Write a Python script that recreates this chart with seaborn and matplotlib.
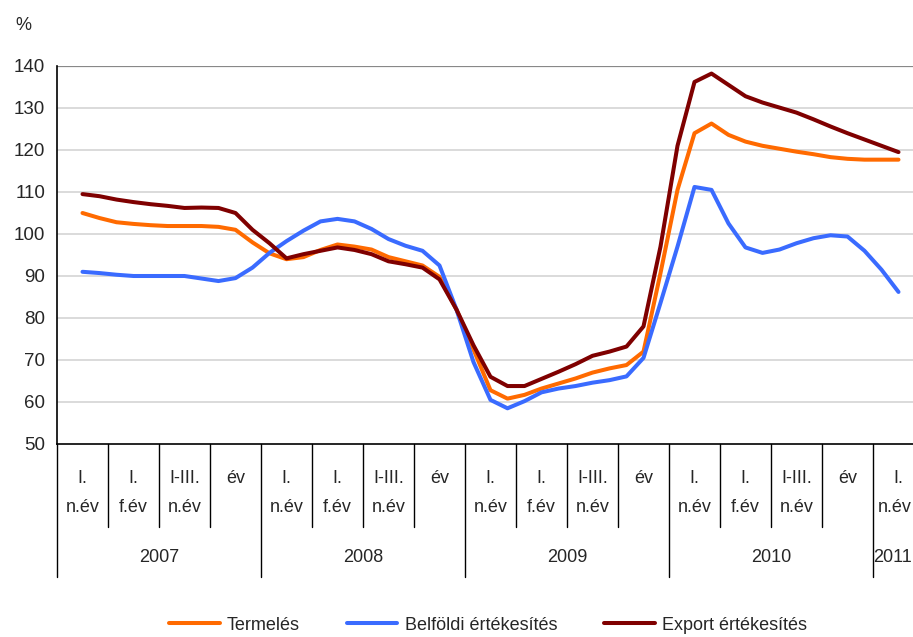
import numpy as np
import pandas as pd
import matplotlib
matplotlib.use("Agg")
import matplotlib.pyplot as plt
import matplotlib.transforms as mtransforms
import seaborn as sns

# monthly readings, Jan 2007 .. Jan 2011 (3 months per column of the table)
months = np.arange(49)

termeles = [105.0, 103.8, 102.8, 102.4, 102.1, 101.9, 101.9, 101.9, 101.7, 101.0,
            98.0, 95.4, 94.0, 94.5, 96.2, 97.5, 97.0, 96.3, 94.5, 93.5,
            92.5, 89.8, 82.0, 72.5, 62.8, 60.8, 61.7, 63.2, 64.4, 65.6,
            67.0, 68.0, 68.8, 72.0, 90.7, 110.5, 124.0, 126.3, 123.6, 122.0,
            121.0, 120.3, 119.6, 119.0, 118.3, 117.9, 117.7, 117.7, 117.7]

belfoldi = [91.0, 90.7, 90.3, 90.0, 90.0, 90.0, 90.0, 89.4, 88.8, 89.5,
            92.0, 95.5, 98.3, 100.8, 103.0, 103.6, 103.0, 101.2, 98.8, 97.2,
            96.0, 92.5, 82.0, 69.5, 60.5, 58.5, 60.2, 62.3, 63.2, 63.8,
            64.6, 65.2, 66.1, 70.5, 83.6, 97.0, 111.2, 110.5, 102.5, 96.8,
            95.5, 96.3, 97.8, 99.0, 99.7, 99.4, 96.0, 91.5, 86.2]

export = [109.5, 109.0, 108.2, 107.6, 107.1, 106.7, 106.2, 106.3, 106.2, 105.0,
          101.0, 97.8, 94.2, 95.2, 96.0, 96.8, 96.2, 95.2, 93.5, 92.8,
          92.0, 89.2, 82.0, 73.5, 66.0, 63.8, 63.8, 65.5, 67.2, 69.0,
          71.0, 72.0, 73.2, 78.0, 97.0, 121.0, 136.2, 138.2, 135.5, 132.8,
          131.3, 130.1, 128.9, 127.3, 125.6, 124.0, 122.5, 121.0, 119.5]

series_names = ["Termelés", "Belföldi értékesítés", "Export értékesítés"]
colors = ["#FF6A00", "#3A6BFF", "#7F0000"]

period_top = ["I.", "I.", "I-III.", "év"]
period_bottom = ["n.év", "f.év", "n.év", ""]
years = ["2007", "2008", "2009", "2010", "2011"]
n_periods = 17

df = pd.DataFrame({
    "x": np.tile(months / 3.0, 3),
    "value": termeles + belfoldi + export,
    "series": np.repeat(series_names, len(months)),
})

sns.set_style("white")
plt.rcParams["font.family"] = ["Liberation Sans", "DejaVu Sans"]
plt.rcParams["font.size"] = 13

fig = plt.figure(figsize=(9.13, 6.37), dpi=100)
ax = fig.add_axes([57 / 913, 1 - 444 / 637, 867 / 913, 378 / 637])

sns.lineplot(data=df, x="x", y="value", hue="series", palette=colors,
             hue_order=series_names, linewidth=2.9, ax=ax, legend=True)

ax.set_xlim(-0.5, n_periods - 0.5)
ax.set_ylim(50, 140)
ax.set_yticks(range(50, 141, 10))
for yv in range(60, 140, 10):
    ax.axhline(yv, color="#d4d4d4", lw=1.2, zorder=0)
ax.axhline(140, color="#888888", lw=1.6, zorder=0)

ax.set_xticks([])
ax.set_xlabel("")
ax.set_ylabel("")
for s in ["top", "right"]:
    ax.spines[s].set_visible(False)
ax.spines["left"].set_color("black")
ax.spines["bottom"].set_color("black")
ax.spines["left"].set_linewidth(1.2)
ax.spines["bottom"].set_linewidth(1.2)
ax.tick_params(axis="y", direction="out", length=5, width=1, color="black",
               pad=3.5, labelsize=13.5)

# table of categories under the axis
trans = mtransforms.blended_transform_factory(ax.transData, ax.transAxes)
edge = mtransforms.blended_transform_factory(fig.transFigure, ax.transAxes)
for k in range(n_periods + 1):
    xb = k - 0.5
    bottom = -0.352 if k % 4 == 0 else -0.220
    ax.plot([xb, xb], [0, bottom], color="black", lw=1, transform=trans,
            clip_on=False)

for i in range(n_periods):
    q = i % 4
    ax.text(i, -0.090, period_top[q], transform=trans, ha="center",
            va="center", fontsize=13)
    if not period_bottom[q]:
        continue
    if i == n_periods - 1:
        # last column runs past the figure edge, keep the text inside
        ax.text(0.999, -0.169, period_bottom[q], transform=edge, ha="right",
                va="center", fontsize=13)
    else:
        ax.text(i, -0.169, period_bottom[q], transform=trans, ha="center",
                va="center", fontsize=13)

for j, yr in enumerate(years):
    start = j * 4
    end = min(start + 3, n_periods - 1)
    if start == end:
        ax.text(0.999, -0.299, yr, transform=edge, ha="right",
                va="center", fontsize=13)
    else:
        ax.text((start + end) / 2, -0.299, yr, transform=trans, ha="center",
                va="center", fontsize=13)

fig.text(23 / 913, 1 - 25 / 637, "%", ha="center", va="center", fontsize=13)

ax.legend(loc="center", bbox_to_anchor=(0.497, -0.479), ncol=3, frameon=False,
          handlelength=2.8, handletextpad=0.4, columnspacing=2.6, fontsize=13)
leg = ax.get_legend()
for line in leg.get_lines():
    line.set_linewidth(2.9)

fig.savefig("out.png", dpi=100)
